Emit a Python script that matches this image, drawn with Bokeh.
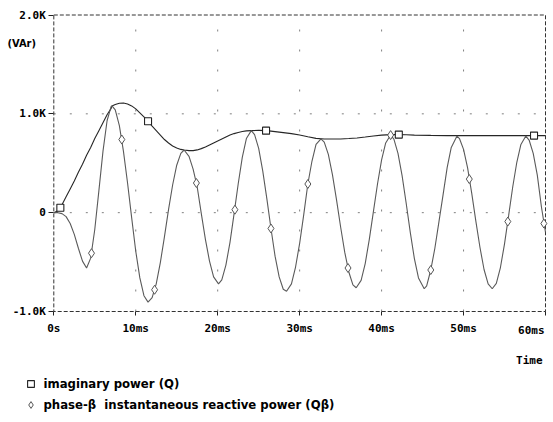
from bokeh.plotting import figure
from bokeh.models import FixedTicker, Label, Legend, LegendItem
from bokeh.embed import file_html
from bokeh.resources import INLINE

# ---- data (time in ms, reactive power in kVAr) ----
q_t = [0, 0.5, 0.8, 1.0, 1.5, 2.0, 2.5, 3.0, 3.5, 4.0, 4.5, 5.0, 5.5, 6.0, 6.5, 7.0, 7.1,
       7.5, 8.0, 8.5, 9.0, 9.5, 10.0, 10.5, 11.0, 11.5, 12.0, 12.5, 13.0, 13.5, 14.0, 14.5,
       15.0, 15.5, 15.9, 16.5, 17.0, 17.5, 18.0, 18.5, 19.0, 19.5, 20.0, 20.5, 21.0, 21.5,
       22.0, 22.5, 23.0, 23.5, 24.1, 25.0, 26.0, 27.0, 28.0, 29.0, 30.0, 31.0, 32.0, 33.0,
       34.0, 35.0, 36.0, 37.0, 38.0, 39.0, 40.0, 41.1, 42.0, 43.0, 44.0, 46.0, 48.0, 50.0,
       55.0, 60.0]
q_v = [0.0, 0.02, 0.05, 0.08, 0.16, 0.24, 0.32, 0.41, 0.49, 0.58, 0.66, 0.75, 0.83, 0.91,
       0.99, 1.055, 1.08, 1.095, 1.107, 1.11, 1.10, 1.08, 1.05, 1.01, 0.97, 0.925, 0.875,
       0.83, 0.785, 0.74, 0.705, 0.675, 0.655, 0.64, 0.634, 0.628, 0.628, 0.635, 0.648,
       0.665, 0.685, 0.705, 0.725, 0.745, 0.765, 0.785, 0.80, 0.812, 0.822, 0.828, 0.83,
       0.833, 0.83, 0.82, 0.81, 0.80, 0.785, 0.768, 0.752, 0.746, 0.745, 0.746, 0.75, 0.756,
       0.765, 0.775, 0.785, 0.79, 0.79, 0.788, 0.785, 0.782, 0.78, 0.78, 0.78, 0.78]

qb_t = [0, 0.5, 1.0, 1.5, 2.0, 2.5, 3.0, 3.5, 4.0, 4.5, 5.0, 5.5, 6.0, 6.5, 7.0, 7.1, 7.5,
        8.0, 8.5, 9.0, 9.5, 10.0, 10.5, 11.0, 11.5, 12.0, 12.5, 13.0, 13.5, 14.0, 14.5, 15.0,
        15.5, 15.9, 16.5, 17.0, 17.5, 18.0, 18.5, 19.0, 19.5, 20.1, 20.5, 21.0, 21.5, 22.0,
        22.5, 23.0, 23.5, 24.1, 24.5, 25.0, 25.5, 26.0, 26.5, 27.0, 27.5, 28.0, 28.4, 29.0,
        29.5, 30.0, 30.5, 31.0, 31.5, 32.0, 32.6, 33.0, 33.5, 34.0, 34.5, 35.0, 35.5, 36.0,
        36.5, 36.9, 37.5, 38.0, 38.5, 39.0, 39.5, 40.0, 40.5, 41.1, 41.5, 42.0, 42.5, 43.0,
        43.5, 44.0, 44.5, 45.2, 45.5, 46.0, 46.5, 47.0, 47.5, 48.0, 48.5, 49.2, 49.5, 50.0,
        50.5, 51.0, 51.5, 52.0, 52.5, 53.0, 53.5, 54.0, 54.5, 55.0, 55.5, 56.0, 56.5, 57.0,
        57.6, 58.0, 58.5, 59.0, 59.5, 60.0]
qb_v = [0.0, 0.0, -0.01, -0.04, -0.11, -0.22, -0.36, -0.49, -0.56, -0.46, -0.17, 0.22,
        0.62, 0.93, 1.075, 1.08, 1.04, 0.88, 0.62, 0.30, -0.05, -0.39, -0.66, -0.84, -0.905,
        -0.86, -0.72, -0.505, -0.245, 0.03, 0.28, 0.48, 0.60, 0.634, 0.57, 0.44, 0.26, -0.01,
        -0.27, -0.49, -0.65, -0.72, -0.68, -0.53, -0.30, -0.01, 0.29, 0.56, 0.75, 0.83, 0.79,
        0.65, 0.42, 0.14, -0.16, -0.44, -0.65, -0.775, -0.795, -0.72, -0.55, -0.31, -0.02,
        0.29, 0.52, 0.69, 0.746, 0.714, 0.59, 0.385, 0.13, -0.145, -0.40, -0.60, -0.73, -0.76,
        -0.685, -0.515, -0.27, 0.01, 0.29, 0.535, 0.705, 0.785, 0.745, 0.60, 0.375, 0.095,
        -0.20, -0.465, -0.66, -0.77, -0.74, -0.58, -0.36, -0.09, 0.18, 0.455, 0.66, 0.775,
        0.75, 0.64, 0.45, 0.195, -0.085, -0.35, -0.575, -0.72, -0.77, -0.715, -0.555, -0.315,
        -0.03, 0.26, 0.51, 0.69, 0.775, 0.735, 0.60, 0.38, 0.06, -0.20]

q_mark_t = [0.8, 11.5, 25.9, 42.1, 58.6]
q_mark_v = [0.05, 0.925, 0.83, 0.79, 0.78]
qb_mark_t = [4.6, 8.3, 12.3, 17.4, 22.1, 26.5, 31.0, 35.9, 41.1, 46.0, 50.7, 55.4, 59.8]
qb_mark_v = [-0.41, 0.74, -0.78, 0.30, 0.03, -0.16, 0.29, -0.56, 0.785, -0.58, 0.34, -0.09, -0.11]

x_ticks = [0, 10, 20, 30, 40, 50, 60]
x_tick_labels = ["0s", "10ms", "20ms", "30ms", "40ms", "50ms", "60ms"]
y_ticks = [-1, 0, 1, 2]
y_tick_labels = ["-1.0K", "0", "1.0K", "2.0K"]
legend_labels = ["imaginary power (Q)", "phase-\u03b2  instantaneous reactive power (Q\u03b2)"]

# ---- layout (pixels) ----
W, H = 553, 422
PX_L, PX_R, PX_T, PX_B = 53.3, 545.0, 14.5, 311.0   # plot box on the canvas
x0, x1, y0, y1 = x_ticks[0], x_ticks[-1], y_ticks[0], y_ticks[-1]
sx = (PX_R - PX_L) / (x1 - x0)
sy = (PX_B - PX_T) / (y1 - y0)


def dx(px):
    return x0 + (px - PX_L) / sx


def dy(py):
    return y0 + (PX_B - py) / sy


MONO = "DejaVu Sans Mono"
NARROW = "'Liberation Sans Narrow', 'DejaVu Sans Condensed', Roboto, sans-serif"

p = figure(width=W, height=H, x_range=(dx(0), dx(W)), y_range=(dy(H), dy(0)),
           output_backend="svg", toolbar_location=None,
           min_border=0, min_border_left=0, min_border_right=0,
           min_border_top=0, min_border_bottom=0,
           background_fill_color="white", border_fill_color="white")
p.outline_line_color = None
p.xgrid.visible = False
p.ygrid.visible = False

# dotted grid inside the plot box
gx = x_ticks[1:-1]
gy = y_ticks[1:-1]
p.segment(x0=gx, y0=[y0] * len(gx), x1=gx, y1=[y1] * len(gx),
          line_color="#808080", line_width=1, line_dash="2 18")
p.segment(x0=[x0] * len(gy), y0=gy, x1=[x1] * len(gy), y1=gy,
          line_color="#808080", line_width=1, line_dash="2 14")

# dashed plot box
p.quad(left=[x0], right=[x1], bottom=[y0], top=[y1], fill_color=None,
       line_color="#333333", line_width=1, line_dash="4 2")

# axes fixed at the plot box edges
xa = p.xaxis[0]
ya = p.yaxis[0]
xa.fixed_location = y0
ya.fixed_location = x0
xa.bounds = (x0, x1)
ya.bounds = (y0, y1)
for ax, ticks in ((xa, x_ticks), (ya, y_ticks)):
    ax.ticker = FixedTicker(ticks=ticks)
    ax.axis_line_color = None
    ax.minor_tick_line_color = None
    ax.major_tick_line_color = "#222222"
    ax.major_tick_in = 0
    ax.major_label_text_font = MONO
    ax.major_label_text_font_style = "bold"
    ax.major_label_text_font_size = "11px"
    ax.major_label_text_color = "black"

xa.major_tick_out = 4
xa.major_label_standoff = 6
ov = {t: l for t, l in zip(x_ticks, x_tick_labels)}
ov[x_ticks[-1]] = ""
xa.major_label_overrides = ov
ya.major_tick_out = 5
ya.major_label_standoff = 3
ya.major_label_overrides = {t: l for t, l in zip(y_ticks, y_tick_labels)}

# curves
p.line(q_t, q_v, line_color="#262626", line_width=1.1)
p.line(qb_t, qb_v, line_color="#5a5a5a", line_width=1.1)
r_sq = p.scatter(q_mark_t, q_mark_v, marker="square", size=7, fill_color="white",
                 line_color="#222222", line_width=1.1)
r_di = p.scatter(qb_mark_t, qb_mark_v, marker="diamond", size=9, fill_color="white",
                 line_color="#555555", line_width=1)

# texts
p.add_layout(Label(x=dx(544), y=dy(330), text=x_tick_labels[-1], text_align="right",
                   text_baseline="middle", text_font=MONO, text_font_style="bold",
                   text_font_size="11px", text_color="black"))
p.add_layout(Label(x=dx(542), y=dy(360), text="Time", text_align="right",
                   text_baseline="middle", text_font=MONO, text_font_style="bold",
                   text_font_size="11px", text_color="black"))
p.add_layout(Label(x=dx(7), y=dy(43), text="(VAr)", text_align="left",
                   text_baseline="middle", text_font=NARROW, text_font_style="bold",
                   text_font_size="11px", text_color="black"))

legend = Legend(items=[LegendItem(label=legend_labels[0], renderers=[r_sq]),
                       LegendItem(label=legend_labels[1], renderers=[r_di])],
                location=(21.5, 9.5), orientation="vertical",
                border_line_color=None, background_fill_alpha=0,
                padding=0, margin=0, spacing=4, glyph_width=17, glyph_height=17,
                label_standoff=5, label_text_font=NARROW, label_text_font_style="bold",
                label_text_font_size="13px", label_text_color="black")
p.add_layout(legend, "center")

open("out.html", "w").write(file_html(p, INLINE))
